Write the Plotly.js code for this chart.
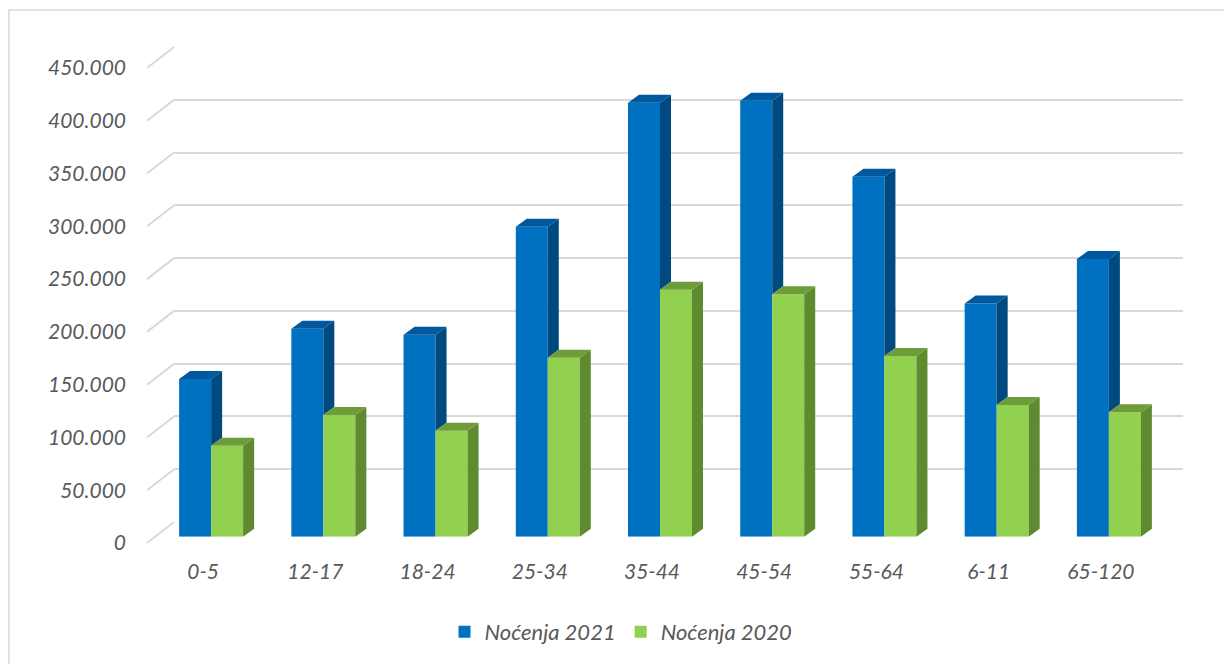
<!DOCTYPE html>
<html>
<head>
<meta charset="utf-8">
<script src="https://cdn.plot.ly/plotly-3.0.1.min.js"></script>
<style>html,body{margin:0;padding:0;background:#fff}#chart{width:1224px;height:664px}</style>
</head>
<body>
<div id="chart"></div>
<script>
// ---- data ----
const categories = ["0-5", "12-17", "18-24", "25-34", "35-44", "45-54", "55-64", "6-11", "65-120"];
const nocenja2021 = [149400, 197000, 191400, 293700, 411000, 413000, 341000, 221000, 263000];
const nocenja2020 = [86200, 115300, 100400, 169600, 234000, 229600, 171200, 124800, 117800];
const seriesNames = ["Noćenja 2021", "Noćenja 2020"];
const yTicks = [0, 50000, 100000, 150000, 200000, 250000, 300000, 350000, 400000, 450000];

// ---- style / geometry ----
const W = 1224, H = 664, yMax = 450000;
const BACK = {left: 174, right: 1183, y0: 522, yTop: 47};
const BARS = {left: 155, right: 1165, y0: 536.7, yTop: 61.7};
const FRONT = {left: 147, right: 1157, y0: 543, yTop: 68};
const colBlue = {front: "#0070C0", side: "#004A80", top: "#00589E"};
const colGreen = {front: "#92D050", side: "#5E8A30", top: "#6F9C3A"};
const textCol = "#595959";
const fontFam = "Lato, 'Open Sans', sans-serif";
const px = x => x / W;
const py = y => 1 - y / H;

const catPx = (BARS.right - BARS.left) / categories.length; // px per category
const barW = 32 / catPx;                  // bar width in category units
const depthX = 11 / catPx;                // depth offset in x units
const depthY = 8 * yMax / (BARS.y0 - BARS.yTop); // depth offset in y units

const xIdx = categories.map((c, i) => i);

function faces(vals, offset, other) {
  const side = {x: [], y: []}, top = {x: [], y: []};
  vals.forEach((v, i) => {
    const xl = i + offset * barW, xr = xl + barW;
    top.x.push(xl, xr, xr + depthX, xl + depthX, xl, null);
    top.y.push(v, v, v + depthY, v + depthY, v, null);
    const base = other ? Math.min(other[i], v) : 0;
    side.x.push(xr, xr, xr + depthX, xr + depthX, xr, null);
    side.y.push(base, v, v + depthY, base + depthY, base, null);
  });
  return {side, top};
}

const fb = faces(nocenja2021, -1, nocenja2020);
const fg = faces(nocenja2020, 0, null);

function poly(f, color) {
  return {type: "scatter", mode: "lines", x: f.x, y: f.y, fill: "toself",
    fillcolor: color, line: {width: 0, color: color}, xaxis: "x2", yaxis: "y2",
    showlegend: false, hoverinfo: "skip"};
}
function helper(xa, ya) { // invisible trace so that the axis subplot is drawn
  return {type: "scatter", mode: "markers", x: xIdx, y: nocenja2021, xaxis: xa, yaxis: ya,
    marker: {opacity: 0}, showlegend: false, hoverinfo: "skip"};
}

const traces = [
  helper("x", "y"),
  {type: "bar", name: seriesNames[0], x: xIdx, y: nocenja2021, text: categories, textposition: "none",
   marker: {color: colBlue.front}, xaxis: "x2", yaxis: "y2",
   hovertemplate: "%{text}: %{y:,d}<extra>" + seriesNames[0] + "</extra>"},
  {type: "bar", name: seriesNames[1], x: xIdx, y: nocenja2020, text: categories, textposition: "none",
   marker: {color: colGreen.front}, xaxis: "x2", yaxis: "y2",
   hovertemplate: "%{text}: %{y:,d}<extra>" + seriesNames[1] + "</extra>"},
  poly(fb.side, colBlue.side),
  poly(fb.top, colBlue.top),
  poly(fg.side, colGreen.side),
  poly(fg.top, colGreen.top),
  helper("x3", "y3")
];

const shapes = yTicks.map(v => {
  const yf = FRONT.y0 - v / yMax * (FRONT.y0 - FRONT.yTop);
  const yb = BACK.y0 - v / yMax * (BACK.y0 - BACK.yTop);
  return {type: "line", xref: "paper", yref: "paper", x0: px(FRONT.left), y0: py(yf),
    x1: px(BACK.left), y1: py(yb), line: {color: "#d9d9d9", width: 2}, layer: "below"};
});
shapes.push({type: "rect", xref: "paper", yref: "paper", x0: px(9), y0: py(10), x1: 1.01, y1: -0.01,
  line: {color: "#d9d9d9", width: 1.5}, fillcolor: "rgba(0,0,0,0)", layer: "below"});

const tickFont = {family: fontFam, size: 21, color: textCol, style: "italic"};
const legFont = {family: fontFam, size: 22, color: textCol, style: "italic"};

const layout = {
  width: W, height: H,
  margin: {l: 0, r: 0, t: 0, b: 0, autoexpand: false},
  paper_bgcolor: "#ffffff", plot_bgcolor: "rgba(0,0,0,0)",
  separators: ",.",
  barmode: "group", bargap: 1 - 2 * barW, bargroupgap: 0,
  showlegend: true,
  legend: {orientation: "h", xref: "paper", yref: "paper", x: px(621), xanchor: "center",
    y: py(632), yanchor: "middle", font: legFont, traceorder: "normal", bgcolor: "rgba(0,0,0,0)"},
  xaxis: {domain: [px(BACK.left), px(BACK.right)], range: [-0.5, categories.length - 0.5], showgrid: false, zeroline: false,
    showticklabels: false, showline: false, ticks: "", anchor: "y", fixedrange: true},
  yaxis: {domain: [py(BACK.y0), py(BACK.yTop)], range: [0, yMax], tickvals: yTicks, showgrid: true,
    gridcolor: "#d9d9d9", gridwidth: 2, zeroline: false, showticklabels: false, showline: false,
    ticks: "", anchor: "x", fixedrange: true},
  xaxis2: {domain: [px(BARS.left), px(BARS.right)], range: [-0.5, categories.length - 0.5],
    showgrid: false, zeroline: false, showticklabels: false, showline: false, ticks: "", anchor: "y2", fixedrange: true},
  yaxis2: {domain: [py(BARS.y0), py(BARS.yTop)], range: [0, yMax], showgrid: false, zeroline: false,
    showticklabels: false, showline: false, ticks: "", anchor: "x2", fixedrange: true},
  xaxis3: {domain: [px(FRONT.left), px(FRONT.right)], range: [-0.5, categories.length - 0.5],
    tickvals: xIdx, ticktext: categories, showgrid: false, zeroline: false, showline: false,
    ticks: "", tickfont: tickFont, ticklabelstandoff: 14, anchor: "y3", fixedrange: true},
  yaxis3: {domain: [py(FRONT.y0), py(FRONT.yTop)], range: [0, yMax], tickvals: yTicks,
    tickformat: ",d", showgrid: false, zeroline: false, showline: false, ticks: "",
    tickfont: tickFont, ticklabelstandoff: 20, anchor: "x3", fixedrange: true},
  shapes: shapes
};

Plotly.newPlot("chart", traces, layout, {displayModeBar: false, staticPlot: true});
</script>
</body>
</html>
